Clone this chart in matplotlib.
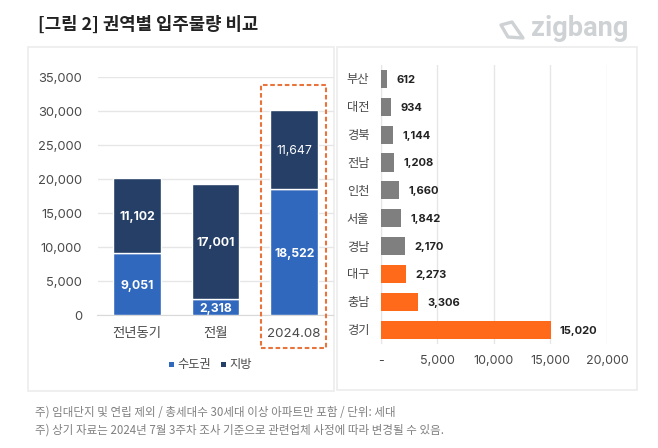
import matplotlib
matplotlib.use('Agg')
import matplotlib.pyplot as plt
from matplotlib.patches import Rectangle, Polygon

plt.rcParams['font.family'] = ['Inter', 'Noto Sans CJK KR', 'DejaVu Sans']

# Left chart data
periods = ['전년동기', '전월', '2024.08']
metro = [9051, 2318, 18522]
local = [11102, 17001, 11647]
series_names = ['수도권', '지방']
y_ticks = [0, 5000, 10000, 15000, 20000, 25000, 30000, 35000]

# Right chart data
regions = ['부산', '대전', '경북', '전남', '인천', '서울', '경남', '대구', '충남', '경기']
supply = [612, 934, 1144, 1208, 1660, 1842, 2170, 2273, 3306, 15020]
highlight = ['대구', '충남', '경기']
x_ticks = [0, 5000, 10000, 15000, 20000]

title = '[그림 2] 권역별 입주물량 비교'
notes = ['주) 임대단지 및 연립 제외 / 총세대수 30세대 이상 아파트만 포함 / 단위: 세대',
         '주) 상기 자료는 2024년 7월 3주차 조사 기준으로 관련업체 사정에 따라 변경될 수 있음.']

W, H = 658, 448
METRO_C = '#3068bd'
LOCAL_C = '#253f66'
GRID_C = '#e6e6e6'
TICK_C = '#4a4a4a'
LOGO_C = '#cfd2d4'
CJK = ['Noto Sans CJK KR', 'DejaVu Sans']


def px_axes(fig, x0, y0, x1, y1, **kw):
    # pixel box, y measured from the top of the image
    return fig.add_axes([x0 / W, 1 - y1 / H, (x1 - x0) / W, (y1 - y0) / H], **kw)


fig = plt.figure(figsize=(W / 100, H / 100), dpi=100, facecolor='white')

# Panel frames, kept behind the axes
for x0, y0, x1, y1 in [(28, 47, 334, 391), (337, 47, 637, 390)]:
    fig.add_artist(Rectangle((x0 / W, 1 - y1 / H), (x1 - x0) / W, (y1 - y0) / H,
                             transform=fig.transFigure, fc='white', ec='#ececec', lw=1.2, zorder=-1))

# ------------------------------------------------------------------------
# Left: stacked bars
# ------------------------------------------------------------------------
ax = px_axes(fig, 97.5, 77, 333.5, 315)
ax.patch.set_alpha(0)
pos = list(range(len(periods)))
ax.bar(pos, metro, width=0.61, color=METRO_C, edgecolor='white', linewidth=1, zorder=3)
ax.bar(pos, local, width=0.61, bottom=metro, color=LOCAL_C, edgecolor='white', linewidth=1, zorder=3)
ax.set_xlim(-0.5, 2.5)
ax.set_ylim(0, 35000)
ax.set_yticks(y_ticks)
ax.set_yticklabels([f'{v:,}' for v in y_ticks], fontsize=9.3, color=TICK_C)
ax.set_xticks(pos)
ax.set_xticklabels(periods, fontsize=9.6, color=TICK_C)
ax.tick_params(axis='y', length=0, pad=11)
ax.tick_params(axis='x', length=0, pad=9.5)
ax.grid(axis='y', color=GRID_C, lw=1, zorder=0)
for side in ['top', 'right', 'left']:
    ax.spines[side].set_visible(False)
ax.spines['bottom'].set_color('#d9d9d9')

for i in pos:
    ax.text(i, metro[i] / 2, f'{metro[i]:,}', color='white', fontsize=8.8, fontweight='bold',
            ha='center', va='center_baseline', zorder=4)
    # the latest month's top label is set lighter in the source
    ax.text(i, metro[i] + local[i] / 2, f'{local[i]:,}', color='white', fontsize=8.8,
            fontweight='normal' if i == 2 else 'bold', ha='center', va='center_baseline', zorder=4)

# Dashed highlight box around the latest month
fig.add_artist(Rectangle((260.5 / W, 1 - 348 / H), 65 / W, 262.5 / H, transform=fig.transFigure,
                         fc='none', ec='#e8743b', lw=1.5, ls=(0, (2.2, 1.3))))

# Legend
for x, name, c in [(169, series_names[0], METRO_C), (221, series_names[1], LOCAL_C)]:
    fig.add_artist(Rectangle((x / W, 1 - 367 / H), 5 / W, 5 / H, transform=fig.transFigure, fc=c, ec='none'))
    fig.text((x + 8) / W, 1 - 364.5 / H, name, fontsize=8.8, color=TICK_C, va='center', family=CJK)

# ------------------------------------------------------------------------
# Right: horizontal bars
# ------------------------------------------------------------------------
ax2 = px_axes(fig, 380.5, 65, 607, 343.5)
ax2.patch.set_alpha(0)
colors = ['#ff6a1a' if r in highlight else '#7f7f7f' for r in regions]
ax2.barh(regions, supply, height=0.65, color=colors, zorder=3)
ax2.set_ylim(len(regions) - 0.5, -0.5)
ax2.set_xlim(0, 20000)
ax2.set_xticks(x_ticks)
ax2.set_xticklabels(['-' if v == 0 else f'{v:,}' for v in x_ticks], fontsize=9, color=TICK_C)
ax2.tick_params(axis='x', length=0, pad=8)
ax2.tick_params(axis='y', length=0, pad=8, labelsize=8.8, labelcolor=TICK_C)
ax2.grid(axis='x', color=GRID_C, lw=1, zorder=0)
for side in ['top', 'right', 'bottom']:
    ax2.spines[side].set_visible(False)
ax2.spines['left'].set_color(GRID_C)
for i, v in enumerate(supply):
    ax2.annotate(f'{v:,}', (v, i), xytext=(6.5, 0), textcoords='offset points', fontsize=8,
                 fontweight='bold', color='#222222', ha='left', va='center_baseline', zorder=4)

# ------------------------------------------------------------------------
# Title, logo, notes
# ------------------------------------------------------------------------
fig.text(38 / W, 1 - 25 / H, title, fontsize=12.8, fontweight='bold', color='#222222', va='center', family=CJK)
fig.text(531 / W, 1 - 29 / H, 'zigbang', fontsize=19.6, color=LOGO_C, fontweight='bold',
         va='center', family='Roboto')
fig.add_artist(Polygon([(501 / W, 1 - 25 / H), (512 / W, 1 - 22 / H), (523 / W, 1 - 38 / H), (508 / W, 1 - 37 / H)],
                       closed=True, transform=fig.transFigure, fc='none', ec=LOGO_C, lw=2.4, joinstyle='round'))
for y, line in zip([412, 430], notes):
    fig.text(35 / W, 1 - y / H, line, fontsize=8.3, color='#808080', va='center', family=CJK)

fig.savefig('out.png', dpi=100)
